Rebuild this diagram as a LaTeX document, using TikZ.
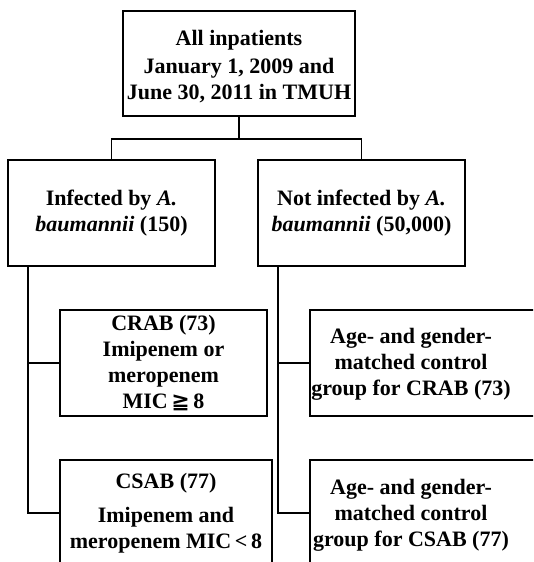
\documentclass[tikz,border=0pt]{standalone}
\usepackage{fontspec}
\setmainfont{Liberation Serif}
\newfontfamily\symf{DejaVu Sans}
\usetikzlibrary{calc}
\begin{document}
\begin{tikzpicture}[x=1pt,y=-1pt,
  box/.style={draw,line width=1.6pt,inner sep=0pt},
  txt/.style={align=center,font=\fontsize{22}{26}\selectfont\bfseries},
  conn/.style={line width=1.6pt}]
\useasboundingbox (0,0) rectangle (533,562);
\clip (0,0) rectangle (533,562);
% boxes
\node[box,minimum width=232,minimum height=105] (top) at (239,63.5) {};
\node[txt] (topt) at (239,67)
  {All inpatients\\[2pt]January 1, 2009 and\\June 30, 2011 in TMUH};
\node[box,txt,minimum width=207,minimum height=106] (left) at (111.5,213)
  {Infected by \textit{A.}\\\textit{baumannii} (150)};
\node[box,txt,minimum width=207,minimum height=106] (right) at (361.5,213)
  {Not infected by \textit{A.}\\\textit{baumannii} (50,000)};
\node[box,txt,minimum width=207,minimum height=106] (crab) at (163.5,363)
  {CRAB (73)\\Imipenem or\\meropenem\\MIC{\symf\bfseries\,≧\,}8};
\node[box,txt,minimum width=212,minimum height=106] (csab) at (166,513)
  {CSAB (77)\\[8pt]Imipenem and\\meropenem MIC\,<\,8};
\node[box,minimum width=240,minimum height=106] (ctrl1) at (430,363) {};
\node[txt] (ctrl1t) at (411,364) {Age- and gender-\\matched control\\group for CRAB (73)};
\node[box,minimum width=240,minimum height=106] (ctrl2) at (430,513) {};
\node[txt] (ctrl2t) at (411,515) {Age- and gender-\\matched control\\group for CSAB (77)};
% connectors
\draw[conn] (top.south) -- ++(0,22) coordinate (j) -| (left.north);
\draw[conn] (j) -| (right.north);
\coordinate (lt) at ($(left.south west)+(21,0)$);
\coordinate (rt) at ($(right.south west)+(21,0)$);
\draw[conn] (lt) |- (crab.west);
\draw[conn] (lt) |- (csab.west);
\draw[conn] (rt) |- (ctrl1.west);
\draw[conn] (rt) |- (ctrl2.west);
\end{tikzpicture}
\end{document}
